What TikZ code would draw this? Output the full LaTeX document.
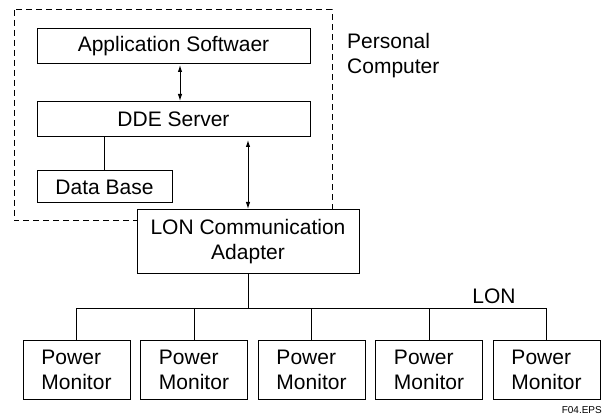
\documentclass[tikz,border=0pt]{standalone}
\usepackage{fontspec}
\setmainfont{Liberation Sans}
\usetikzlibrary{arrows.meta}
\begin{document}
\begin{tikzpicture}[x=1pt,y=-1pt,
  txt/.style={font=\fontsize{21}{25}\selectfont},
  box/.style={draw, line width=1pt, fill=white, inner sep=0pt, align=center, txt},
  pmbox/.style={box, align=left, minimum width=107pt, minimum height=59pt},
  link/.style={line width=1pt},
  bus/.style={line width=1.3pt, line join=miter},
  dlink/.style={line width=1pt, {Latex[length=7pt,width=4.5pt]}-{Latex[length=7pt,width=4.5pt]}},
  pc/.style={draw, dash pattern=on 6pt off 4pt, line width=1pt},
  lbl/.style={txt, inner sep=0pt, align=left}]
\useasboundingbox (0,0) rectangle (604,419);
% personal computer frame
\draw[pc] (14,10) rectangle (332,221);
\node[lbl, anchor=north west] (pclbl) at (347,33) {Personal\\Computer};
% boxes
\node[box, minimum width=273pt, minimum height=35pt] (app) at (173.5,46.5) {Application Softwaer};
\node[box, minimum width=273pt, minimum height=35pt] (dde) at (173.5,119.5) {DDE Server};
\node[box, minimum width=135pt, minimum height=32pt] (db) at (104.5,187) {Data Base};
\node[box, minimum width=222pt, minimum height=63pt] (lon) at (248,241.5) {LON Communication\\Adapter};
% connectors inside PC
\draw[dlink, shorten <=0.5pt, shorten >=0.5pt] ([xshift=6.5pt]app.south) -- ([xshift=6.5pt]dde.north);
\draw[link] (db.north |- dde.south) -- (db.north);
\draw[dlink, shorten <=2.5pt, shorten >=0.5pt] (lon.north |- dde.south) -- (lon.north);
% power monitors
\foreach \i/\cx in {1/76.5, 2/194, 3/311.5, 4/429, 5/546.5} {
  \node[pmbox] (pm\i) at (\cx,369.5) {Power\\Monitor};
}
\coordinate (busL) at (76.5,308.5);
\draw[bus] (pm1.north) -- (pm1.north |- busL) -- (pm5.north |- busL) -- (pm5.north);
\foreach \i in {2,3,4} { \draw[link] (pm\i.north |- busL) -- (pm\i.north); }
\draw[link] (lon.south) -- (lon.south |- busL);
\node[lbl, anchor=base] (lonlbl) at (494,303) {LON};
\node[font=\fontsize{10}{12}\selectfont, inner sep=0pt, anchor=base east] (fig) at (602,413) {F04.EPS};
\end{tikzpicture}
\end{document}
